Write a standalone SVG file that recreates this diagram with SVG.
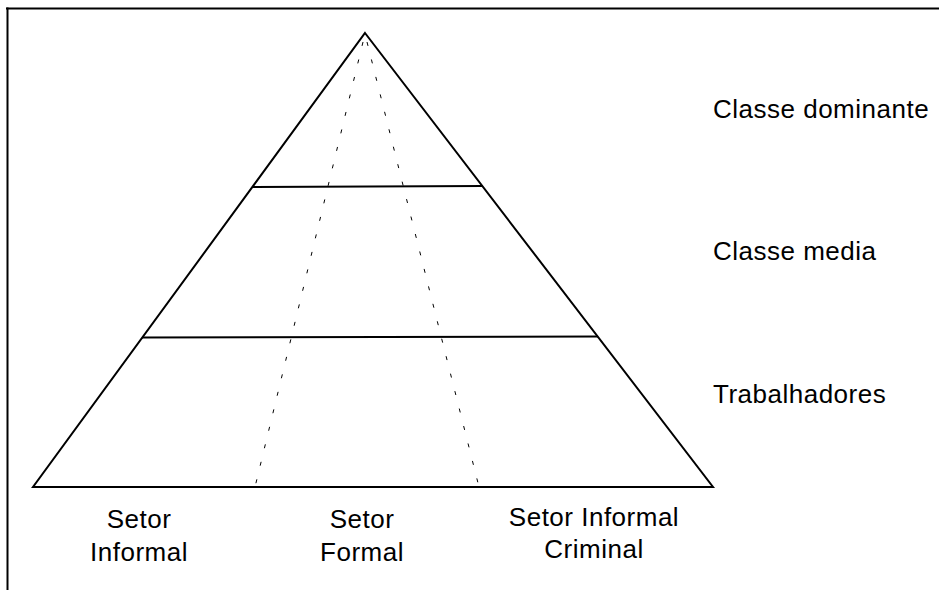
<svg xmlns="http://www.w3.org/2000/svg" width="939" height="590" viewBox="0 0 939 590">
<style>
.ln{stroke:#000;stroke-width:2;fill:none;stroke-linecap:square}
.dot{stroke:#000;stroke-width:1;fill:none;stroke-dasharray:4 14}
.t{font-family:"Liberation Sans",Arial,sans-serif;font-size:26px;fill:#000;letter-spacing:0.5px}
.c{text-anchor:middle}
</style>
<rect width="939" height="590" fill="#fff"/>
<g id="frame">
<line class="ln" x1="7" y1="8.5" x2="939" y2="8.5"/>
<line class="ln" x1="7.5" y1="8.5" x2="7.5" y2="590"/>
</g>
<g id="pyramid">
<polygon class="ln" points="365,33 713,487 33,487" stroke-linejoin="miter"/>
<line class="ln" x1="253" y1="187" x2="482" y2="186"/>
<line class="ln" x1="143" y1="337.5" x2="597" y2="336.5"/>
</g>
<g id="connectors">
<line class="dot" x1="363" y1="42" x2="255" y2="487"/>
<line class="dot" x1="367" y1="42" x2="479" y2="487"/>
</g>
<g id="class-labels">
<text class="t" x="713" y="118">Classe dominante</text>
<text class="t" x="713" y="260">Classe media</text>
<text class="t" x="713" y="403">Trabalhadores</text>
</g>
<g id="sector-labels">
<text class="t c" x="139" y="528">Setor</text>
<text class="t c" x="139" y="561">Informal</text>
<text class="t c" x="362" y="528">Setor</text>
<text class="t c" x="362" y="561">Formal</text>
<text class="t c" x="594" y="526">Setor Informal</text>
<text class="t c" x="594" y="558">Criminal</text>
</g>
</svg>
